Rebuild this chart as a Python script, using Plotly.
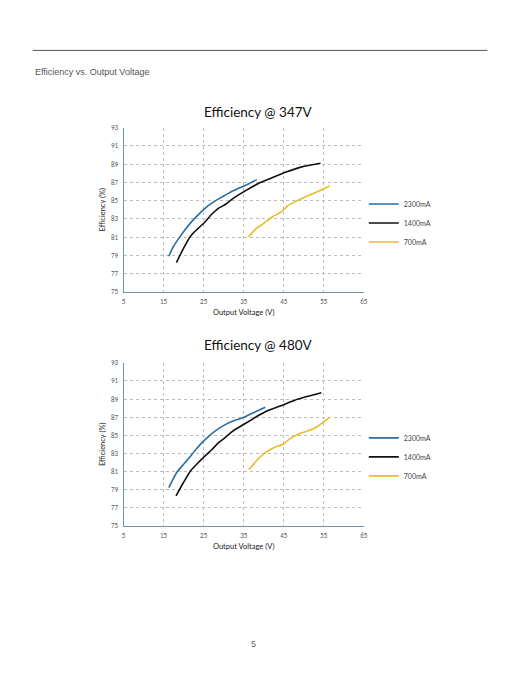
import plotly.graph_objects as go

# ---- data: Efficiency @ 347V ----
v347_2300 = [16.3, 17.5, 19.0, 20.5, 22.0, 24.0, 26.0, 28.0, 30.0, 32.0, 34.0, 36.0, 38.3]
e347_2300 = [78.9, 80.0, 81.0, 81.9, 82.7, 83.6, 84.4, 85.0, 85.5, 86.0, 86.4, 86.8, 87.3]
v347_1400 = [18.2, 20.0, 21.9, 23.5, 25.2, 27.0, 28.5, 30.5, 32.2, 35.5, 38.8, 42.1, 45.4, 49.5, 54.2]
e347_1400 = [78.2, 79.8, 81.2, 81.9, 82.6, 83.5, 84.1, 84.6, 85.2, 86.1, 86.9, 87.5, 88.1, 88.7, 89.1]
v347_700 = [36.2, 38.0, 40.0, 42.1, 44.5, 46.2, 48.0, 50.3, 53.0, 56.5]
e347_700 = [81.0, 81.9, 82.5, 83.2, 83.8, 84.5, 84.9, 85.4, 85.9, 86.6]

# ---- data: Efficiency @ 480V ----
v480_2300 = [16.3, 18.3, 20.0, 21.4, 23.0, 25.1, 28.0, 30.5, 32.5, 34.6, 37.0, 40.4]
e480_2300 = [79.2, 80.9, 81.8, 82.5, 83.4, 84.4, 85.5, 86.2, 86.6, 86.9, 87.4, 88.1]
v480_1400 = [18.1, 20.0, 21.8, 23.5, 25.1, 27.0, 28.8, 30.5, 32.1, 35.4, 38.0, 40.4, 44.5, 48.6, 54.4]
e480_1400 = [78.3, 79.8, 81.1, 81.9, 82.6, 83.4, 84.2, 84.8, 85.4, 86.3, 87.0, 87.6, 88.3, 89.0, 89.7]
v480_700 = [36.3, 38.7, 40.5, 42.9, 44.9, 46.5, 48.6, 50.5, 52.8, 54.5, 56.5]
e480_700 = [81.2, 82.4, 83.1, 83.7, 84.0, 84.6, 85.1, 85.4, 85.8, 86.3, 87.0]

series_names = ["2300mA", "1400mA", "700mA"]
series_colors = ["#2a6ca3", "#111111", "#e6bd2e"]

x_ticks = [5, 15, 25, 35, 45, 55, 65]
y_ticks = [75, 77, 79, 81, 83, 85, 87, 89, 91, 93]

W, H = 522, 676

def px_x(p):
    return p / W

def px_y(p):
    return 1 - p / H

fig = go.Figure()

sets = [
    ("x", "y", "legend", [(v347_2300, e347_2300), (v347_1400, e347_1400), (v347_700, e347_700)]),
    ("x2", "y2", "legend2", [(v480_2300, e480_2300), (v480_1400, e480_1400), (v480_700, e480_700)]),
]
for xa, ya, lg, data in sets:
    for (xs, ys), name, col in zip(data, series_names, series_colors):
        fig.add_trace(go.Scatter(
            x=xs, y=ys, mode="lines", name=name, xaxis=xa, yaxis=ya, legend=lg,
            line=dict(color=col, width=1.6, shape="spline", smoothing=0.6),
        ))

axis_line = "#6f93ab"
grid_col = "#bdbdbd"
tick_font = dict(family="Carlito, Lato, sans-serif", size=7, color="#595959")

def xaxis_cfg(domain, anchor):
    return dict(domain=domain, anchor=anchor, range=[5, 65], tickvals=x_ticks,
                showline=True, linecolor=axis_line, linewidth=1,
                showgrid=True, gridcolor=grid_col, griddash="dot", gridwidth=1,
                ticks="outside", ticklen=3, tickcolor="rgba(0,0,0,0)",
                tickfont=tick_font, zeroline=False, fixedrange=True,
                title=dict(text="Output Voltage (V)", standoff=4,
                           font=dict(family="Lato, sans-serif", size=7.5, color="#222")))

def yaxis_cfg(domain, anchor):
    return dict(domain=domain, anchor=anchor, range=[75, 93], tickvals=y_ticks,
                showline=True, linecolor=axis_line, linewidth=1,
                showgrid=True, gridcolor=grid_col, griddash="dot", gridwidth=1,
                ticks="outside", ticklen=3, tickcolor="rgba(0,0,0,0)",
                tickfont=tick_font, zeroline=False, fixedrange=True,
                title=dict(text="Efficiency (%)", standoff=4,
                           font=dict(family="Lato, sans-serif", size=7.5, color="#222")))

legend_common = dict(font=dict(family="Lato, sans-serif", size=7, color="#444"),
                     bgcolor="rgba(0,0,0,0)", itemwidth=30, tracegroupgap=0,
                     xanchor="left", yanchor="middle")

fig.update_layout(
    width=W, height=H,
    margin=dict(l=0, r=0, t=0, b=0),
    paper_bgcolor="white", plot_bgcolor="white",
    xaxis=xaxis_cfg([px_x(123), px_x(366)], "y"),
    yaxis=yaxis_cfg([px_y(290.7), px_y(124.3)], "x"),
    xaxis2=xaxis_cfg([px_x(123), px_x(366)], "y2"),
    yaxis2=yaxis_cfg([px_y(527.7), px_y(362.7)], "x2"),
    legend=dict(x=px_x(366), y=px_y(221), **legend_common),
    legend2=dict(x=px_x(366), y=px_y(458), **legend_common),
    showlegend=True,
    annotations=[
        dict(text="Efficiency @ 347V", x=px_x(259), y=px_y(108), xref="paper", yref="paper",
             showarrow=False, xanchor="center", yanchor="middle",
             font=dict(family="Lato, sans-serif", size=13.5, color="#111")),
        dict(text="Efficiency @ 480V", x=px_x(259), y=px_y(345), xref="paper", yref="paper",
             showarrow=False, xanchor="center", yanchor="middle",
             font=dict(family="Lato, sans-serif", size=13.5, color="#111")),
        dict(text="Efficiency vs. Output Voltage", x=px_x(31), y=px_y(68), xref="paper", yref="paper",
             showarrow=False, xanchor="left", yanchor="middle",
             font=dict(family="Liberation Sans, Arial, sans-serif", size=9, color="#555")),
        dict(text="5", x=px_x(254), y=px_y(648), xref="paper", yref="paper",
             showarrow=False, xanchor="center", yanchor="middle",
             font=dict(family="Liberation Sans, Arial, sans-serif", size=9, color="#666")),
    ],
    shapes=[
        dict(type="line", xref="paper", yref="paper", x0=px_x(31), x1=px_x(491),
             y0=px_y(46), y1=px_y(46), line=dict(color="#555", width=1)),
    ],
)

fig.write_html("out.html", config=dict(displayModeBar=False),
               post_script="document.body.style.margin='0px';document.body.style.overflow='hidden';")
